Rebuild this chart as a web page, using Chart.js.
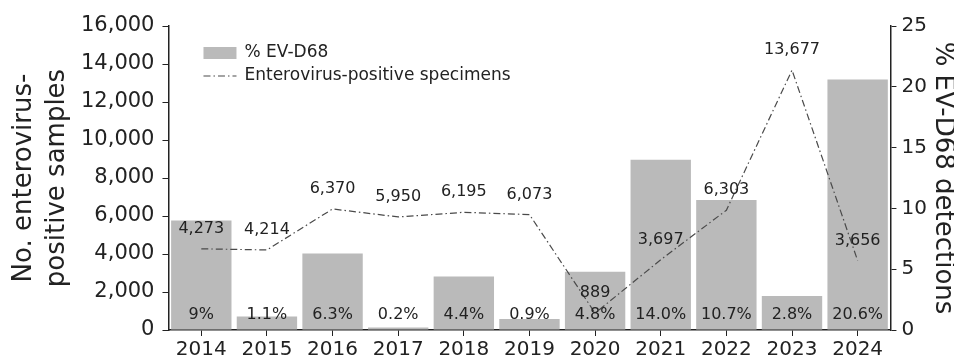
<!DOCTYPE html>
<html>
<head>
<meta charset="utf-8">
<title>EV-D68</title>
<script src="https://cdn.jsdelivr.net/npm/chart.js@4.4.1/dist/chart.umd.min.js"></script>
<style>
  html, body { margin: 0; padding: 0; background: #fff; }
  #wrap { width: 954px; height: 364px; }
</style>
</head>
<body>
<div id="wrap"><canvas id="myChart"></canvas></div>
<script>
// years on the x axis
var years = ['2014', '2015', '2016', '2017', '2018', '2019', '2020', '2021', '2022', '2023', '2024'];
// % of samples with EV-D68 (bars, right axis)
var pctEVD68 = [9, 1.1, 6.3, 0.2, 4.4, 0.9, 4.8, 14.0, 10.7, 2.8, 20.6];
// decimals shown in each bar label
var pctDigits = [0, 1, 1, 1, 1, 1, 1, 1, 1, 1, 1];
// enterovirus-positive specimens (line, left axis)
var positives = [4273, 4214, 6370, 5950, 6195, 6073, 889, 3697, 6303, 13677, 3656];

var FONT = 'DejaVu Sans';
var BAR = '#bababa';
var LINE = '#4a4a4a';
var DASH = [7, 3, 1.5, 3];

// value labels above line points and at the foot of each bar
var valueLabels = {
  id: 'valueLabels',
  afterDatasetsDraw: function(chart) {
    var ctx = chart.ctx;
    var y1 = chart.scales.y1;
    ctx.save();
    ctx.fillStyle = '#222';
    ctx.textAlign = 'center';
    ctx.textBaseline = 'middle';
    ctx.font = '16px "' + FONT + '"';
    var bars = chart.getDatasetMeta(0).data;
    bars.forEach(function(b, i) {
      ctx.fillText(pctEVD68[i].toFixed(pctDigits[i]) + '%', b.x, y1.getPixelForValue(0) - 15);
    });
    var pts = chart.getDatasetMeta(1).data;
    pts.forEach(function(p, i) {
      ctx.fillText(positives[i].toLocaleString('en-US'), p.x, p.y - 20);
    });
    ctx.restore();
  }
};

// two-row legend in the upper left of the plot
var boxLegend = {
  id: 'boxLegend',
  afterDraw: function(chart) {
    var ctx = chart.ctx;
    var a = chart.chartArea;
    var x = a.left + 35, y = a.top + 27;
    ctx.save();
    ctx.fillStyle = BAR;
    ctx.fillRect(x, y - 6, 33, 12);
    ctx.strokeStyle = LINE;
    ctx.lineWidth = 1.2;
    ctx.setLineDash(DASH);
    ctx.beginPath();
    ctx.moveTo(x, y + 23);
    ctx.lineTo(x + 33, y + 23);
    ctx.stroke();
    ctx.setLineDash([]);
    ctx.fillStyle = '#222';
    ctx.font = '17px "' + FONT + '"';
    ctx.textBaseline = 'middle';
    ctx.fillText('% EV-D68', x + 41, y);
    ctx.fillText('Enterovirus-positive specimens', x + 41, y + 23);
    ctx.restore();
  }
};

var ctx = document.getElementById('myChart').getContext('2d');
var chart = new Chart(ctx, {
  data: {
    labels: years,
    datasets: [{
      type: 'bar',
      label: '% EV-D68',
      data: pctEVD68,
      yAxisID: 'y1',
      backgroundColor: BAR,
      borderWidth: 0,
      barPercentage: 0.92,
      categoryPercentage: 1.0,
      order: 2
    },
    {
      type: 'line',
      label: 'Enterovirus-positive specimens',
      data: positives,
      yAxisID: 'y',
      borderColor: LINE,
      borderWidth: 1.2,
      borderDash: DASH,
      pointRadius: 0,
      tension: 0,
      fill: false,
      order: 1
    }]
  },
  options: {
    responsive: true,
    maintainAspectRatio: false,
    animation: false,
    layout: { padding: { top: 26, left: 8, right: 0, bottom: 0 } },
    plugins: {
      legend: { display: false },
      tooltip: { enabled: false }
    },
    scales: {
      x: {
        offset: true,
        grid: { offset: false, drawOnChartArea: false, drawTicks: true, tickLength: 6, color: '#222' },
        border: { display: true, color: '#222', width: 1.5 },
        ticks: { color: '#222', font: { family: FONT, size: 20 }, padding: 2, maxRotation: 0 }
      },
      y: {
        position: 'left',
        min: 0,
        max: 16000,
        grid: { drawOnChartArea: false, drawTicks: true, tickLength: 6, color: '#222' },
        border: { display: true, color: '#222', width: 1.5 },
        ticks: {
          stepSize: 2000,
          color: '#222',
          padding: 8,
          font: { family: FONT, size: 21 },
          callback: function(v) { return v.toLocaleString('en-US'); }
        },
        title: {
          display: true,
          text: ['No. enterovirus-', 'positive samples'],
          color: '#222',
          font: { family: FONT, size: 26, lineHeight: 1.25 },
          padding: { top: 0, bottom: 0 }
        }
      },
      y1: {
        position: 'right',
        min: 0,
        max: 25,
        grid: { drawOnChartArea: false, drawTicks: true, tickLength: 6, color: '#222' },
        border: { display: true, color: '#222', width: 1.5 },
        ticks: { stepSize: 5, color: '#222', padding: 5, font: { family: FONT, size: 20 } },
        title: {
          display: true,
          text: '% EV-D68 detections',
          color: '#222',
          font: { family: FONT, size: 26, lineHeight: 0.85 },
          padding: { top: 0, bottom: 0 }
        }
      }
    }
  },
  plugins: [valueLabels, boxLegend]
});
</script>
</body>
</html>
